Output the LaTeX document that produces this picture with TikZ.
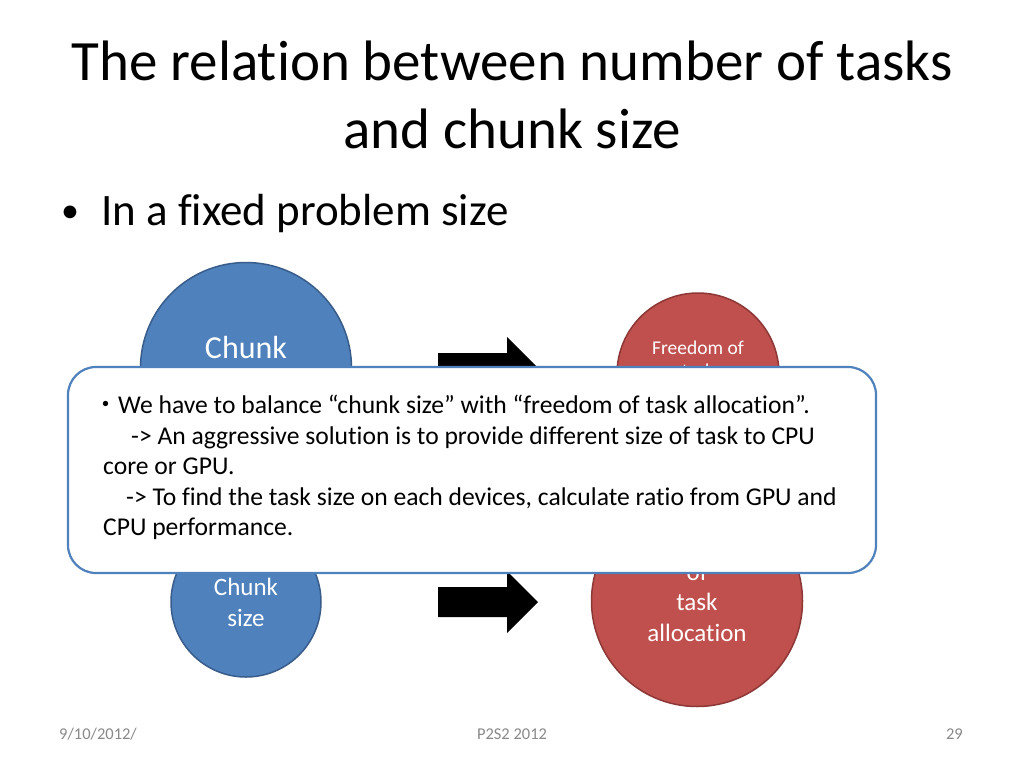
\documentclass[tikz,border=0pt]{standalone}
\usepackage{fontspec}
\setmainfont{Carlito}[Ligatures={NoCommon}]
\newfontfamily\jpfont{Noto Sans CJK JP}
\definecolor{cblue}{HTML}{4F81BD}
\definecolor{cblueline}{HTML}{385D8A}
\definecolor{cred}{HTML}{C0504D}
\definecolor{credline}{HTML}{8C3836}
\definecolor{footgray}{HTML}{898989}
\begin{document}
\begin{tikzpicture}[x=1pt,y=-1pt,
  bluecirc/.style={circle,fill=cblue,draw=cblueline,line width=1.5pt,inner sep=0pt},
  redcirc/.style={circle,fill=cred,draw=credline,line width=1.5pt,inner sep=0pt},
  circtext/.style={text=white,align=center,inner sep=0pt},
  blockarrow/.style={fill=black,draw=none},
  boxtext/.style={anchor=base west,inner sep=0pt,font=\fontsize{25.6}{30}\selectfont},
  foot/.style={text=footgray,inner sep=0pt,font=\fontsize{16.5}{19}\selectfont}]
\useasboundingbox (0,0) rectangle (1024,768);
\fill[white] (0,0) rectangle (1024,768);
% title
\node[anchor=base,inner sep=0pt,font=\fontsize{57}{68}\selectfont] (t1) at (512,80) {The relation between number of tasks};
\node[anchor=base,inner sep=0pt,font=\fontsize{57}{68}\selectfont] (t2) at (512,148) {and chunk size};
\node[anchor=base west,inner sep=0pt,font=\fontsize{36}{40}\selectfont] (b1) at (61,222) {•};
\node[anchor=base west,inner sep=0pt,font=\fontsize{45}{50}\selectfont] (b2) at (101,225) {In a fixed problem size};
% top row
\node[bluecirc,minimum size=211pt] (c1) at (246,368) {};
\node[circtext,anchor=base,font=\fontsize{32}{36}\selectfont] (c1t) at (246,358) {Chunk};
\fill[blockarrow] (438,353) -- (507,353) -- (507,337) -- (538,368) -- (507,399) -- (507,383) -- (438,383) -- cycle;
\node[redcirc,minimum size=162pt] (r1) at (698,374) {};
\node[circtext,anchor=base,font=\fontsize{19.5}{23}\selectfont] (r1t) at (698,354) {Freedom of};
\node[circtext,anchor=base,font=\fontsize{19.5}{23}\selectfont] (r1t2) at (698,377) {task};
% bottom row
\node[bluecirc,minimum size=150pt] (c2) at (246,602) {};
\node[circtext,anchor=base,font=\fontsize{25}{30}\selectfont] (c2t) at (246,595) {Chunk};
\node[circtext,anchor=base,font=\fontsize{25}{30}\selectfont] (c2t2) at (246,626) {size};
\fill[blockarrow] (438,587) -- (507,587) -- (507,571) -- (538,602) -- (507,633) -- (507,617) -- (438,617) -- cycle;
\node[redcirc,minimum size=211pt] (r2) at (697,601) {};
\node[circtext,anchor=base,font=\fontsize{25}{30}\selectfont] (r2t1) at (697,580) {of};
\node[circtext,anchor=base,font=\fontsize{25}{30}\selectfont] (r2t2) at (697,610) {task};
\node[circtext,anchor=base,font=\fontsize{25}{30}\selectfont] (r2t3) at (697,641) {allocation};
% callout box
\draw[fill=white,draw=cblue,line width=2.2pt,rounded corners=28pt] (68,367) rectangle (876,573);
\node[boxtext] (l1) at (93,413) {{\jpfont\fontsize{25}{28}\selectfont ・}We have to balance “chunk size” with “freedom of task allocation”.};
\node[boxtext] (l2) at (131,444) {-> An aggressive solution is to provide different size of task to CPU};
\node[boxtext] (l3) at (103,474) {core or GPU.};
\node[boxtext] (l4) at (126,505) {-> To find the task size on each devices, calculate ratio from GPU and};
\node[boxtext] (l5) at (103,535) {CPU performance.};
% footer
\node[foot,anchor=base west] (f1) at (59,739) {9/10/2012/};
\node[foot,anchor=base] (f2) at (512,739) {P2S2 2012};
\node[foot,anchor=base east] (f3) at (963,739) {29};
\end{tikzpicture}
\end{document}
